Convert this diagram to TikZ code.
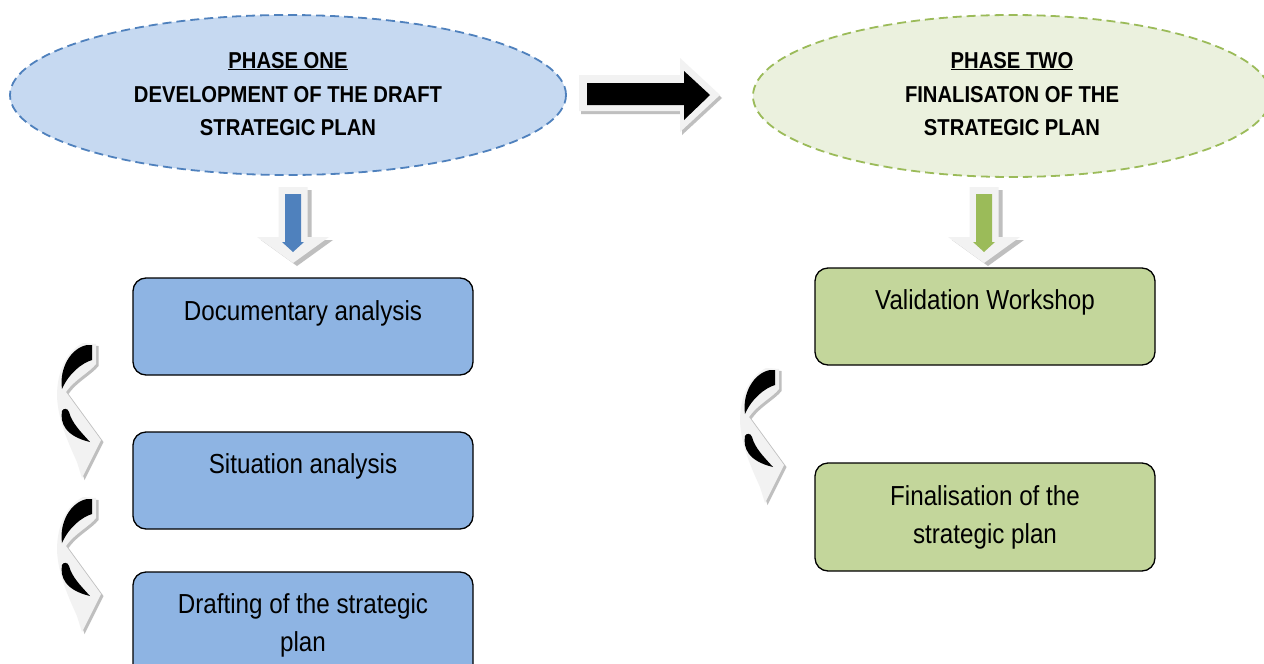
\documentclass[tikz,border=0pt]{standalone}
\usepackage{fontspec}
\setmainfont{Liberation Sans}[FakeStretch=0.88]
\usetikzlibrary{shapes.geometric,calc}
\definecolor{ellblue}{HTML}{C6D9F1}
\definecolor{ellblueline}{HTML}{4F81BD}
\definecolor{ellgreen}{HTML}{EBF1DE}
\definecolor{ellgreenline}{HTML}{9BBB59}
\definecolor{boxblue}{HTML}{8EB4E3}
\definecolor{boxgreen}{HTML}{C3D69B}
\definecolor{arrlight}{HTML}{F2F2F2}
\definecolor{arrshadow}{HTML}{BFBFBF}
\definecolor{arrblue}{HTML}{4F81BD}
\definecolor{arrgreen}{HTML}{9BBB59}
\tikzset{
  phaseell/.style={ellipse, inner sep=0pt, line width=1.8pt, dash pattern=on 9pt off 5pt},
  headtext/.style={anchor=base, inner sep=0pt, font=\fontsize{23}{33}\selectfont\bfseries},
  stagebox/.style={draw=black, line width=1.3pt, rounded corners=13pt, inner sep=0pt, minimum width=340pt},
  boxtext/.style={anchor=base, inner sep=0pt, font=\fontsize{27.5}{38}\selectfont},
  curvedarrow/.pic={
    \fill[arrshadow, shift={(2.5,2)}] (43,13) -- (56,14) -- (56,34) .. controls (50,42) and (34,50) .. (26,62) -- (61,110) -- (42,148) -- (37,132) .. controls (28,112) and (18,90) .. (17,66) .. controls (17,42) and (26,22) .. (43,13) -- cycle;
    \fill[arrlight] (43,13) -- (56,14) -- (56,34) .. controls (50,42) and (34,50) .. (26,62) -- (61,110) -- (42,148) -- (37,132) .. controls (28,112) and (18,90) .. (17,66) .. controls (17,42) and (26,22) .. (43,13) -- cycle;
    \fill[black] (47,15) -- (52,15) -- (52,30) .. controls (42,33) and (29,43) .. (22,59) .. controls (19,38) and (31,18) .. (47,15) -- cycle;
    \fill[black] (22,81) .. controls (20,93) and (25,106) .. (50,112) .. controls (40,101) and (32,93) .. (29,82) .. controls (28,78) and (23,78) .. (22,81) -- cycle;
  },
  downarrow/.pic={
    \fill[arrshadow, shift={(4,3)}] (-14.5,0) -- (14.5,0) -- (14.5,50) -- (36,50) -- (0,76) -- (-36,50) -- (-14.5,50) -- cycle;
    \fill[arrlight] (-14.5,0) -- (14.5,0) -- (14.5,50) -- (36,50) -- (0,76) -- (-36,50) -- (-14.5,50) -- cycle;
    \fill[#1] (-8,7) -- (8,7) -- (8,55) -- (11,55) -- (0,65) -- (-11,55) -- (-8,55) -- cycle;
  }
}
\begin{document}
\begin{tikzpicture}[x=1pt,y=-1pt]
\clip (0,0) rectangle (1264,664);
\fill[white] (0,0) rectangle (1264,664);

% phase ellipses
\node[phaseell, fill=ellblue, draw=ellblueline, minimum width=556pt, minimum height=160pt] (p1) at (288,95) {};
\node[phaseell, fill=ellgreen, draw=ellgreenline, minimum width=518pt, minimum height=162pt] (p2) at (1012,96) {};

\node[headtext] (p1a) at (288,68) {\underline{PHASE ONE}};
\node[headtext] (p1b) at (288,102) {DEVELOPMENT OF THE DRAFT};
\node[headtext] (p1c) at (288,135) {STRATEGIC PLAN};
\node[headtext] (p2a) at (1012,68) {\underline{PHASE TWO}};
\node[headtext] (p2b) at (1012,102) {FINALISATON OF THE};
\node[headtext] (p2c) at (1012,135) {STRATEGIC PLAN};

% right block arrow
\fill[arrshadow] (581,78) -- (682,78) -- (682,61) -- (722,98) -- (682,135) -- (682,114) -- (581,114) -- cycle;
\fill[arrlight] (579,75) -- (680,75) -- (680,58) -- (720,95) -- (680,132) -- (680,111) -- (579,111) -- cycle;
\fill[black] (587,83) -- (684,83) -- (684,71) -- (710,95) -- (684,120) -- (684,105) -- (587,105) -- cycle;

% down arrows
\pic (d1) at (293,187) {downarrow=arrblue};
\pic (d2) at (984,187) {downarrow=arrgreen};

% stage boxes
\node[stagebox, fill=boxblue, minimum height=97pt] (b1) at (303,326.5) {};
\node[stagebox, fill=boxblue, minimum height=97pt] (b2) at (303,480.5) {};
\node[stagebox, fill=boxblue, minimum height=110pt] (b3) at (303,627) {};
\node[stagebox, fill=boxgreen, minimum height=97pt] (b4) at (985,316.5) {};
\node[stagebox, fill=boxgreen, minimum height=108pt] (b5) at (985,517) {};

\node[boxtext] (t1) at (303,320) {Documentary analysis};
\node[boxtext] (t2) at (303,473.5) {Situation analysis};
\node[boxtext] (t3a) at (303,613) {Drafting of the strategic};
\node[boxtext] (t3b) at (303,651) {plan};
\node[boxtext] (t4) at (985,309) {Validation Workshop};
\node[boxtext] (t5a) at (985,505) {Finalisation of the};
\node[boxtext] (t5b) at (985,543) {strategic plan};

% curved arrows
\pic (c1) at (40,330) {curvedarrow};
\pic (c2) at (40,484) {curvedarrow};
\pic (c3) at (723,355) {curvedarrow};
\end{tikzpicture}
\end{document}
